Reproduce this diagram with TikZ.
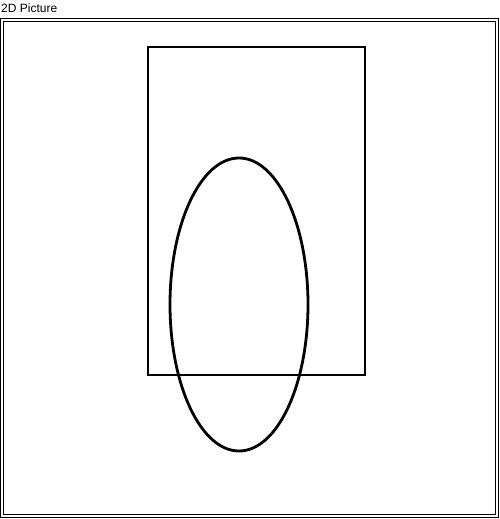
\documentclass[tikz,border=0pt]{standalone}
\usepackage{fontspec}
\setmainfont{Liberation Sans}
\begin{document}
\begin{tikzpicture}[x=1pt,y=-1pt,
  frameline/.style={draw=black,line width=1pt},
  shapeline/.style={draw=black,line width=2.8pt},
  titletext/.style={anchor=base west,inner sep=0pt,font=\fontsize{12}{14}\selectfont}]
\useasboundingbox[fill=white] (0,0) rectangle (500,519);
\node[titletext] (title) at (1,12.8) {2D Picture};
\draw[frameline] (0.5,18.5) rectangle (498.5,517.5);
\draw[frameline] (3.5,21.5) rectangle (495.5,514.5);
\draw[shapeline] (148,47) rectangle (365,375);
\draw[shapeline] (239,304.5) ellipse [x radius=69, y radius=146.5];
\end{tikzpicture}
\end{document}
